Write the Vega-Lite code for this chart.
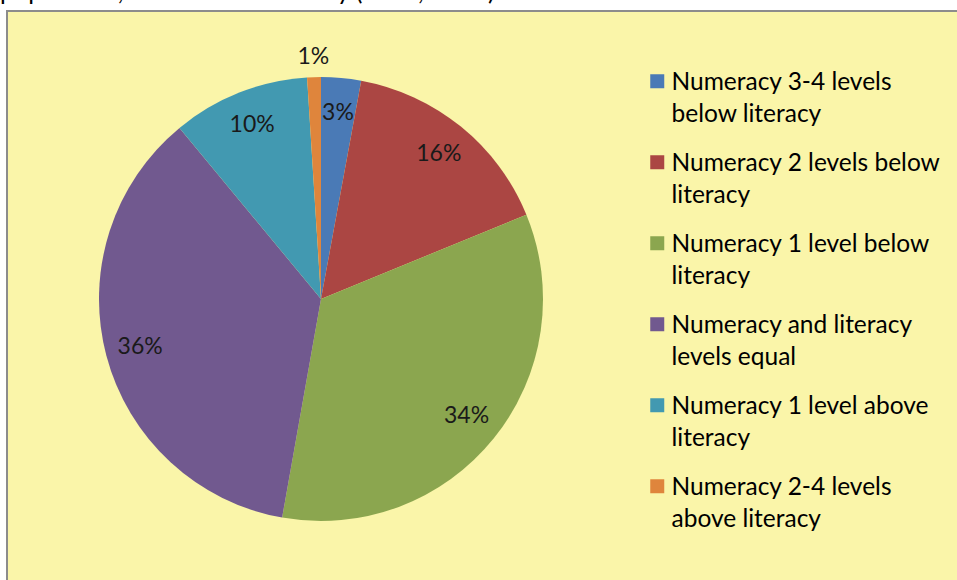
{
  "$schema": "https://vega.github.io/schema/vega-lite/v6.json",
  "width": 628,
  "height": 576,
  "autosize": {"type": "none"},
  "padding": {"left": 7, "top": 11, "right": 322, "bottom": -7},
  "background": "#ffffff",
  "view": {"fill": "#FAF5A9", "stroke": "#8c8c8c", "strokeWidth": 2},
  "title": {
    "text": "population, Skills for Life Survey (DfES, 2003)",
    "anchor": "start",
    "font": "Lato",
    "fontSize": 25,
    "fontWeight": "normal",
    "color": "#000000",
    "dx": -7,
    "offset": -15,
    "baseline": "alphabetic"
  },
  "data": {
    "values": [
      {"n": 1, "category": "Numeracy 3-4 levels below literacy", "share": 0.029},
      {"n": 2, "category": "Numeracy 2 levels below literacy", "share": 0.159},
      {"n": 3, "category": "Numeracy 1 level below literacy", "share": 0.340},
      {"n": 4, "category": "Numeracy and literacy levels equal", "share": 0.362},
      {"n": 5, "category": "Numeracy 1 level above literacy", "share": 0.100},
      {"n": 6, "category": "Numeracy 2-4 levels above literacy", "share": 0.010}
    ]
  },
  "encoding": {
    "theta": {"field": "share", "type": "quantitative", "stack": true},
    "order": {"field": "n", "type": "quantitative"}
  },
  "layer": [
    {
      "mark": {"type": "arc", "outerRadius": 222, "strokeWidth": 0},
      "encoding": {
        "color": {
          "field": "category",
          "type": "nominal",
          "scale": {
            "domain": [
              "Numeracy 3-4 levels below literacy",
              "Numeracy 2 levels below literacy",
              "Numeracy 1 level below literacy",
              "Numeracy and literacy levels equal",
              "Numeracy 1 level above literacy",
              "Numeracy 2-4 levels above literacy"
            ],
            "range": ["#4A7AB6", "#AB4643", "#8BA64F", "#71598F", "#4299B1", "#DF853C"]
          },
          "legend": {
            "title": null,
            "orient": "right",
            "offset": -48,
            "padding": 58,
            "symbolType": "square",
            "symbolSize": 196,
            "symbolStrokeWidth": 0,
            "symbolOpacity": 1,
            "labelFont": "Lato",
            "labelFontSize": 24.5,
            "labelColor": "#000000",
            "labelLimit": 500,
            "labelOffset": 2,
            "labelBaseline": "top",
            "rowPadding": 23,
            "fillColor": "#FAF5A9",
            "strokeColor": "#8c8c8c",
            "labelExpr": "split(replace(datum.label, regexp('^(.{1,23}) (.*)$'), '$1|$2'), '|')",
            "encode": {
              "labels": {"update": {"dy": {"value": -10}, "lineHeight": {"value": 32}}},
              "legend": {"update": {"strokeDash": {"value": [1000, 3000]}, "strokeWidth": {"value": 2}}}
            }
          }
        }
      }
    },
    {
      "mark": {"type": "text", "radius": 187, "font": "Lato", "fontSize": 23, "color": "#1a1a1a"},
      "encoding": {
        "text": {
          "condition": {"test": "datum.share >= 0.02", "field": "share", "type": "quantitative", "format": ".0%"},
          "value": ""
        }
      }
    },
    {
      "mark": {"type": "text", "radius": 242, "font": "Lato", "fontSize": 23, "color": "#1a1a1a"},
      "encoding": {
        "text": {
          "condition": {"test": "datum.share < 0.02", "field": "share", "type": "quantitative", "format": ".0%"},
          "value": ""
        }
      }
    }
  ]
}
